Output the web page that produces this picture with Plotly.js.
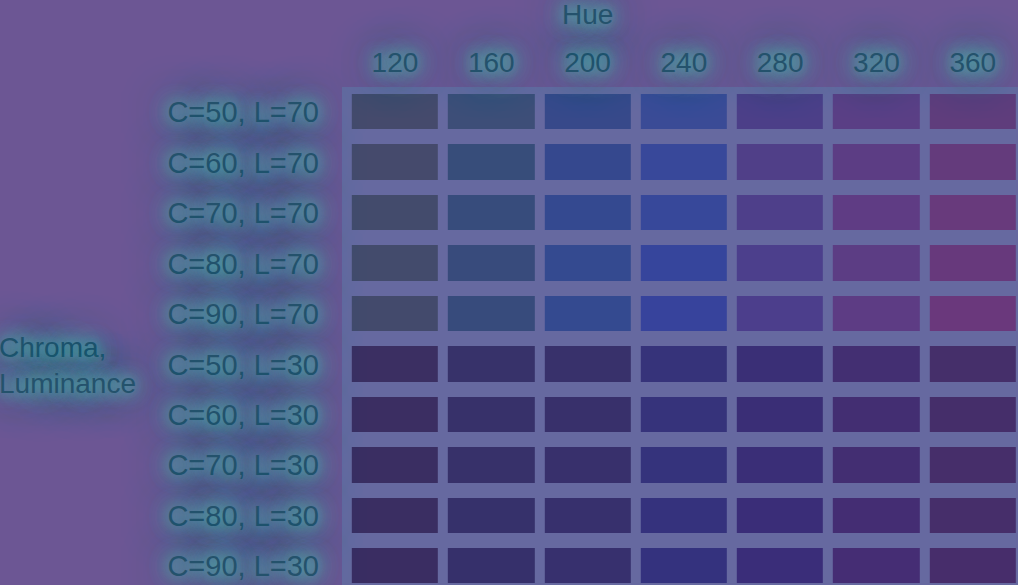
<!DOCTYPE html>
<html>
<head>
<meta charset="utf-8">
<script src="https://cdn.plot.ly/plotly-3.0.1.min.js"></script>
<style>
  html, body { margin: 0; padding: 0; background: #6c5694; }
  #chart { width: 1018px; height: 585px; }
</style>
</head>
<body>
<div id="chart"></div>
<script>
// Hue columns
const hues = [120, 160, 200, 240, 280, 320, 360];
// Chroma / Luminance rows
const rowLabels = [
  "C=50, L=70", "C=60, L=70", "C=70, L=70", "C=80, L=70", "C=90, L=70",
  "C=50, L=30", "C=60, L=30", "C=70, L=30", "C=80, L=30", "C=90, L=30"
];
// Swatch colours as seen in the picture, one array per row (hue order)
const colorsC50L70 = ["#454a6c", "#3d4e78", "#37498a", "#3a4b96", "#4c3f88", "#5a3f85", "#5f3d7c"];
const colorsC60L70 = ["#454a6c", "#374d7a", "#35488e", "#38489a", "#503f88", "#5c3d84", "#643b7c"];
const colorsC70L70 = ["#434b6c", "#374c7c", "#344990", "#37489a", "#4e3f8a", "#5f3c84", "#683a7c"];
const colorsC80L70 = ["#434b6c", "#384b7c", "#344a90", "#36459c", "#4c3f8c", "#5c3d84", "#67397c"];
const colorsC90L70 = ["#434a6c", "#374b7c", "#344a90", "#37439c", "#4c3e8c", "#5d3c84", "#6a387c"];
const colorsC50L30 = ["#3b2f62", "#37326a", "#38316b", "#36337a", "#3a2f76", "#432f72", "#452f6a"];
const colorsC60L30 = ["#3b2e62", "#37316a", "#38306b", "#36337b", "#3a2e76", "#432e72", "#452e6a"];
const colorsC70L30 = ["#3a2e62", "#37316a", "#38306c", "#35337c", "#3a2e77", "#432e72", "#462e6a"];
const colorsC80L30 = ["#3a2e62", "#36316b", "#37306d", "#35327d", "#3a2d78", "#442d73", "#462e6a"];
const colorsC90L30 = ["#3a2d62", "#36306b", "#37306e", "#34327e", "#3a2d79", "#452d74", "#472d6b"];
const rowColors = [colorsC50L70, colorsC60L70, colorsC70L70, colorsC80L70, colorsC90L70,
                   colorsC50L30, colorsC60L30, colorsC70L30, colorsC80L30, colorsC90L30];

// Build a heatmap where each cell gets its own colour
const nCols = hues.length, nRows = rowLabels.length, nCells = nCols * nRows;
const z = [], colorscale = [];
rowColors.forEach((row, r) => {
  z.push(row.map((c, k) => r * nCols + k));
  row.forEach((c, k) => {
    const idx = r * nCols + k;
    colorscale.push([idx / (nCells - 1), c]);
  });
});

const textColor = "#24526c";
const g = "rgba(80,172,168,0.85)";
const glow = [
  "0 0 12px " + g, "0 0 18px " + g, "0 0 24px " + g,
  "0 0 32px " + g, "0 0 40px " + g, "0 0 50px rgba(80,160,168,0.8)"
].join(", ");
const fontBase = { family: "Liberation Sans, Arial, sans-serif", size: 28, color: textColor, shadow: glow };
const fontY = Object.assign({}, fontBase, { size: 29 });

const trace = {
  type: "heatmap",
  x: hues.map((h, i) => i),
  y: rowLabels.map((l, i) => i),
  z: z,
  zmin: 0, zmax: nCells - 1,
  colorscale: colorscale,
  showscale: false,
  xgap: 10, ygap: 15,
  hoverinfo: "skip"
};

const layout = {
  width: 1018, height: 585,
  margin: { l: 342, r: 0, t: 87, b: 0, pad: 0 },
  paper_bgcolor: "#6c5694",
  plot_bgcolor: "#6669a0",
  font: fontBase,
  xaxis: {
    side: "top",
    range: [-0.55, 6.47],
    tickvals: hues.map((h, i) => i),
    ticktext: hues.map(String),
    ticks: "", showgrid: false, zeroline: false, showline: false,
    ticklabelstandoff: 8,
    tickfont: fontBase
  },
  yaxis: {
    range: [9.373, -0.5],
    tickvals: rowLabels.map((l, i) => i),
    ticktext: rowLabels,
    ticks: "", showgrid: false, zeroline: false, showline: false,
    ticklabelstandoff: 22,
    tickfont: fontY
  },
  annotations: [
    { text: "Hue", xref: "x", x: 2, yref: "paper", y: (585 - 15) / 498,
      xanchor: "center", yanchor: "middle", showarrow: false, font: fontBase },
    { text: "Chroma,<br>Luminance", xref: "paper", x: -345 / 676, yref: "paper", y: (585 - 365) / 498,
      xanchor: "left", yanchor: "middle", align: "left", showarrow: false, font: fontBase }
  ]
};

Plotly.newPlot("chart", [trace], layout, { displayModeBar: false, staticPlot: true });
</script>
</body>
</html>
